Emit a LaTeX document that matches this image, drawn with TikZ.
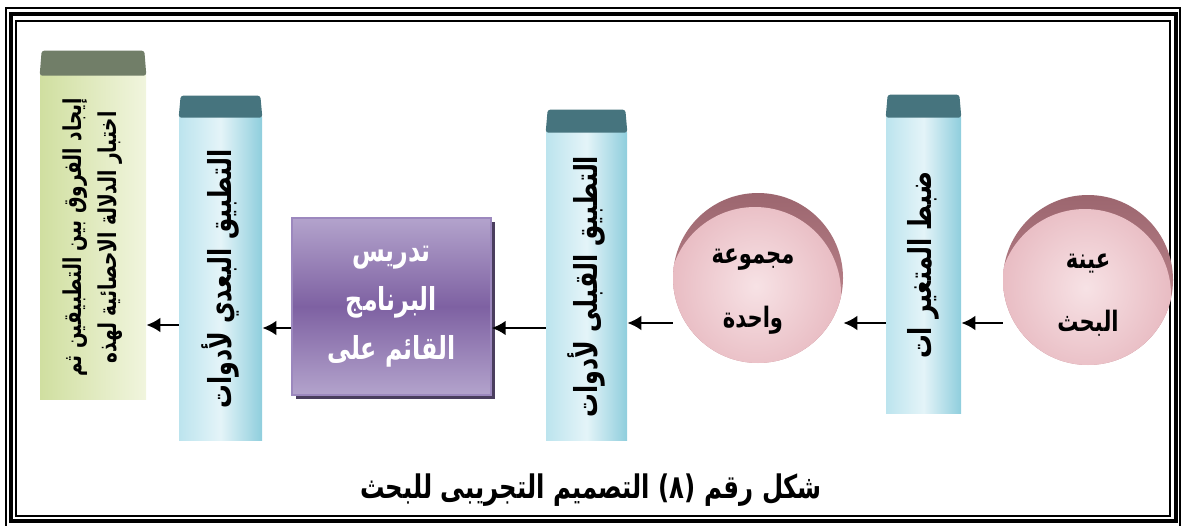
\documentclass[tikz,border=0pt]{standalone}
\usepackage{fontspec}
\newfontfamily\arabicfont[Script=Arabic,FakeStretch=0.75]{DejaVu Sans}
\TeXXeTstate=1
\usetikzlibrary{shadows,arrows.meta}

\definecolor{capteal}{HTML}{46747E}
\definecolor{capolive}{HTML}{717E68}
\definecolor{iceL}{HTML}{BCE4EE}
\definecolor{iceM}{HTML}{E4F4F8}
\definecolor{iceR}{HTML}{8FCEDD}
\definecolor{limeL}{HTML}{D0DFA0}
\definecolor{limeR}{HTML}{F1F5DE}
\definecolor{rosein}{HTML}{F7E2E5}
\definecolor{roseout}{HTML}{E8BBC2}
\definecolor{rosetop}{HTML}{9C666F}
\definecolor{rosemid}{HTML}{C99198}
\definecolor{lilac}{HTML}{B3A3CC}
\definecolor{violet}{HTML}{7E61A2}
\definecolor{violetedge}{HTML}{9C88BE}
\definecolor{violetshadow}{HTML}{4A3E5E}

% dark top of a column: node, cap height, colour
\newcommand{\colcap}[3]{%
  \fill[#3, rounded corners=1.5pt] (#1.north west) -- ([shift={(0.04,#2)}]#1.north west)
    -- ([shift={(-0.04,#2)}]#1.north east) -- (#1.north east) -- cycle;}

\begin{document}
\begin{tikzpicture}[
  colbody/.style={rectangle, inner sep=0pt, left color=iceL, right color=iceR, middle color=iceM},
  limebody/.style={rectangle, inner sep=0pt, left color=limeL, right color=limeR},
  coltext/.style={rotate=90, align=center, font=\arabicfont\bfseries\fontsize{18}{20}\selectfont},
  disk/.style={circle, minimum size=3.4cm, inner sep=0pt, top color=rosetop, bottom color=rosemid,
    path picture={\shade[inner color=rosein, outer color=roseout]
      ([shift={(-0.06,-0.3)}]path picture bounding box.center) circle (1.72);}},
  disktext/.style={align=center, font=\arabicfont\bfseries\fontsize{16}{36}\selectfont},
  progbox/.style={rectangle, draw=violetedge, line width=0.8pt, top color=lilac,
    bottom color=lilac, middle color=violet, text=white, align=center,
    general shadow={fill=violetshadow, shadow xshift=0.08cm, shadow yshift=-0.08cm},
    font=\arabicfont\bfseries\fontsize{18}{28}\selectfont},
  flow/.style={-{Latex[length=2.8mm,width=3mm]}, line width=1.6pt}
]
\useasboundingbox (0,0) rectangle (23.62,10.5);

% frame
\draw[line width=0.6pt] (0.12,-0.1) rectangle (23.6,10.34);
\draw[line width=2.8pt] (0.22,0.08) rectangle (23.52,10.22);
\draw[line width=0.8pt] (0.32,0.18) rectangle (23.4,10.08);

% columns
\node[colbody, minimum width=1.5cm, minimum height=5.9cm] (colA) at (18.47,5.19) {};
\colcap{colA}{0.46}{capteal}
\node[colbody, minimum width=1.62cm, minimum height=6.14cm] (colB) at (11.73,4.77) {};
\colcap{colB}{0.46}{capteal}
\node[colbody, minimum width=1.66cm, minimum height=6.44cm] (colC) at (4.41,4.92) {};
\colcap{colC}{0.44}{capteal}
\node[limebody, minimum width=2.12cm, minimum height=6.46cm] (colD) at (1.86,5.75) {};
\colcap{colD}{0.5}{capolive}

\node[coltext] (txtA) at (colA) {\beginR ضبط المتغير ات\endR};
\node[coltext] (txtB) at (colB) {\beginR التطبيق القبلى لأدوات\endR};
\node[coltext] (txtC) at (colC) {\beginR التطبيق البعدي لأدوات\endR};
\node[coltext, font=\arabicfont\bfseries\fontsize{14}{20}\selectfont] (txtD) at (colD)
  {\beginR إيجاد الفروق بين التطبيقين ثم\endR\\
   \beginR اختبار الدلالة الاحصائية لهذه\endR};

% sample and group
\node[disk] (circA) at (21.76,4.9) {};
\node[disktext] (txtE) at (21.76,4.6) {\beginR عينة\endR\\ \beginR البحث\endR};
\node[disk] (circB) at (15.16,4.94) {};
\node[disktext] (txtF) at (15.06,4.67) {\beginR مجموعة\endR\\ \beginR واحدة\endR};

% programme
\node[progbox, minimum width=3.98cm, minimum height=3.54cm] (prog) at (7.83,4.37)
  {\beginR تدريس\endR\\ \beginR البرنامج\endR\\ \beginR القائم على\endR};

% arrows
\coordinate (rowR) at (0,4.04);
\coordinate (rowM) at (0,3.94);
\coordinate (rowL) at (0,4.0);
\draw[flow] (circA.west |- rowR) -- (colA.east |- rowR);
\draw[flow] (colA.west |- rowR) -- (circB.east |- rowR);
\draw[flow] (circB.west |- rowR) -- (colB.east |- rowR);
\draw[flow] (colB.west |- rowM) -- (prog.east |- rowM);
\draw[flow] (prog.west |- rowM) -- (colC.east |- rowM);
\draw[flow] (colC.west |- rowL) -- (colD.east |- rowL);

\node[font=\arabicfont\bfseries\fontsize{18.5}{20}\selectfont] (title) at (11.82,0.7)
  {\beginR شكل رقم \beginL(٨)\endL{} التصميم التجريبى للبحث\endR};
\end{tikzpicture}
\end{document}
